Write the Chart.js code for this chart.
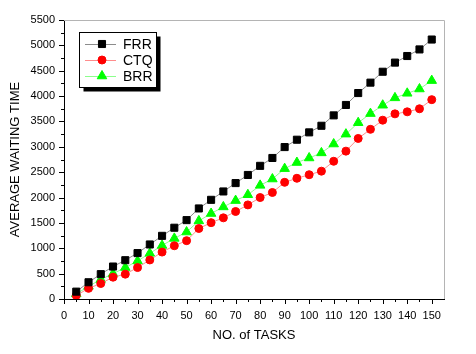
<!DOCTYPE html>
<html>
<head>
<meta charset="utf-8">
<script src="https://cdn.jsdelivr.net/npm/chart.js@4.4.0/dist/chart.umd.min.js"></script>
<style>
  html, body { margin:0; padding:0; background:#fff; }
  #wrap { width:476px; height:354px; }
</style>
</head>
<body>
<div id="wrap"><canvas id="waitChart"></canvas></div>
<script>
/* data */
const TASKS = [5,10,15,20,25,30,35,40,45,50,55,60,65,70,75,80,85,90,95,100,105,110,115,120,125,130,135,140,145,150];
const FRR = [145,330,490,640,765,905,1075,1245,1405,1555,1785,1955,2120,2285,2445,2625,2780,2995,3140,3285,3415,3620,3825,4060,4265,4480,4660,4790,4920,5115];
const CTQ = [70,210,305,430,490,620,770,925,1050,1150,1390,1505,1600,1725,1855,2000,2100,2300,2380,2450,2520,2715,2915,3165,3345,3525,3650,3690,3750,3930];
const BRR = [100,250,385,500,620,750,900,1055,1195,1320,1540,1685,1815,1940,2055,2240,2365,2570,2690,2780,2880,3055,3250,3475,3655,3820,3965,4055,4140,4305];

const FONT = '"Liberation Sans", Arial, sans-serif';

function pts(ys) { return TASKS.map((x, i) => ({ x, y: ys[i] })); }

function ticksEvery(step, lo, hi) {
  return scale => {
    const t = [];
    for (let v = lo; v <= hi; v += step) t.push({ value: v });
    scale.ticks = t;
  };
}

/* outward ticks, grey top/right frame, boxed legend with shadow */
const decor = {
  id: 'decor',
  afterDraw(chart) {
    const { ctx, chartArea: a, scales } = chart;
    ctx.save();
    ctx.strokeStyle = '#b4b4b4';
    ctx.lineWidth = 1;
    ctx.beginPath();
    ctx.moveTo(a.left, a.top + 0.5); ctx.lineTo(a.right + 0.5, a.top + 0.5);
    ctx.lineTo(a.right + 0.5, a.bottom);
    ctx.stroke();

    ctx.strokeStyle = '#000';
    ctx.beginPath();
    scales.x.ticks.forEach(t => {
      const px = Math.round(scales.x.getPixelForValue(t.value)) + 0.5;
      const len = t.value % 10 === 0 ? 5 : 3;
      ctx.moveTo(px, a.bottom); ctx.lineTo(px, a.bottom + len);
    });
    scales.y.ticks.forEach(t => {
      const py = Math.round(scales.y.getPixelForValue(t.value)) + 0.5;
      const len = t.value % 500 === 0 ? 5 : 3;
      ctx.moveTo(a.left, py); ctx.lineTo(a.left - len, py);
    });
    ctx.stroke();

    // legend
    const bx = 79.5, by = 32.5, bw = 77, bh = 55;
    ctx.fillStyle = '#000';
    ctx.fillRect(bx + 4, by + 4, bw, bh);
    ctx.fillStyle = '#fff';
    ctx.fillRect(bx, by, bw, bh);
    ctx.strokeStyle = '#000';
    ctx.strokeRect(bx, by, bw, bh);
    ctx.font = '14px ' + FONT;
    ctx.textBaseline = 'middle';
    chart.data.datasets.forEach((ds, i) => {
      const y = 44 + i * 16;
      ctx.strokeStyle = ds.borderColor;
      ctx.lineWidth = 1;
      ctx.beginPath(); ctx.moveTo(85, y + 0.5); ctx.lineTo(116, y + 0.5); ctx.stroke();
      ctx.fillStyle = ds.pointBackgroundColor;
      ctx.strokeStyle = ds.pointBorderColor;
      Chart.helpers.drawPoint(ctx, { pointStyle: ds.pointStyle, radius: ds.pointRadius, borderWidth: 1 }, 102, y);
      ctx.fillStyle = '#000';
      ctx.fillText(ds.label, 123, y + 1);
    });
    ctx.restore();
  }
};

const ctx = document.getElementById('waitChart').getContext('2d');
new Chart(ctx, {
  type: 'line',
  data: {
    datasets: [
      { label:'FRR', data:pts(FRR), borderColor:'#8c8c8c', borderWidth:1, pointStyle:'rect', pointRadius:5,
        pointBackgroundColor:'#000', pointBorderColor:'#000', pointBorderWidth:1 },
      { label:'CTQ', data:pts(CTQ), borderColor:'#ff8c8c', borderWidth:1, pointStyle:'circle', pointRadius:4,
        pointBackgroundColor:'#ff0000', pointBorderColor:'#ff0000', pointBorderWidth:1 },
      { label:'BRR', data:pts(BRR), borderColor:'#8cff8c', borderWidth:1, pointStyle:'triangle', pointRadius:5.5,
        pointBackgroundColor:'#00ff00', pointBorderColor:'#00ff00', pointBorderWidth:1 },
    ]
  },
  options: {
    responsive: true,
    maintainAspectRatio: false,
    animation: false,
    events: [],
    layout: { padding: { top: 20, right: 32, left: 0, bottom: 0 } },
    plugins: { legend: { display:false }, tooltip: { enabled:false } },
    scales: {
      x: {
        type: 'linear', min: 0, max: 155,
        afterBuildTicks: ticksEvery(5, 0, 150),
        afterFit: s => { s.height = 55; },
        grid: { display:true, drawOnChartArea:false, drawTicks:false },
        border: { color:'#000', width:1 },
        ticks: { color:'#000', font:{ size:11, family:FONT }, padding:10, maxRotation:0, autoSkip:false,
          callback: v => v % 10 === 0 ? v : '' },
        title: { display:true, text:'NO. of TASKS', color:'#000', font:{ size:13, family:FONT }, padding:{ top:0, bottom:11 } }
      },
      y: {
        min: 0, max: 5500,
        afterBuildTicks: ticksEvery(250, 0, 5500),
        afterFit: s => { s.width = 64; },
        grid: { display:true, drawOnChartArea:false, drawTicks:false },
        border: { color:'#000', width:1 },
        ticks: { color:'#000', font:{ size:11, family:FONT }, padding:9, autoSkip:false,
          callback: v => v % 500 === 0 ? v : '' },
        title: { display:true, text:'AVERAGE WAITING TIME', color:'#000', font:{ size:13, family:FONT }, padding:{ top:8, bottom:0 } }
      }
    }
  },
  plugins: [decor]
});
</script>
</body>
</html>
